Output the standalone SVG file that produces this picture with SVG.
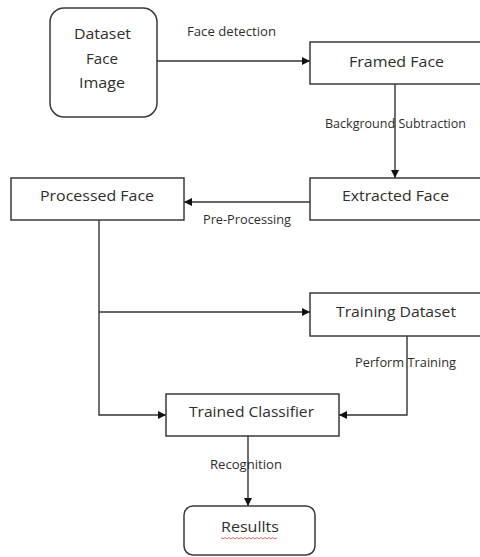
<svg xmlns="http://www.w3.org/2000/svg" width="480" height="557" viewBox="0 0 480 557">
<style>
.box{fill:#fff;stroke:#3a3a3a;stroke-width:1.5}
.conn{fill:none;stroke:#333;stroke-width:1.4}
.nt{font-family:"Open Sans","Liberation Sans",sans-serif;font-size:15px;fill:#2e2e2e;text-anchor:middle}
.lt{font-family:"Open Sans","Liberation Sans",sans-serif;font-size:12px;fill:#2e2e2e;text-anchor:middle}
</style>
<defs>
<marker id="ah" viewBox="0 0 10 10" refX="10" refY="5" markerWidth="8" markerHeight="8" markerUnits="userSpaceOnUse" orient="auto">
<path d="M0,0 L10,5 L0,10 Z" fill="#111"/>
</marker>
</defs>
<rect width="480" height="557" fill="#fff"/>
<g id="connectors">
<path class="conn" d="M157,61 H310" marker-end="url(#ah)"/>
<path class="conn" d="M395,84 V178" marker-end="url(#ah)"/>
<path class="conn" d="M310,202 H184" marker-end="url(#ah)"/>
<path class="conn" d="M99,220 V415 H166" marker-end="url(#ah)"/>
<path class="conn" d="M99,312 H310" marker-end="url(#ah)"/>
<path class="conn" d="M407,336 V415 H339" marker-end="url(#ah)"/>
<path class="conn" d="M248,436 V506" marker-end="url(#ah)"/>
<text class="lt" x="231.5" y="36" textLength="89" lengthAdjust="spacingAndGlyphs">Face detection</text>
<text class="lt" x="395.5" y="128" textLength="141" lengthAdjust="spacingAndGlyphs">Background Subtraction</text>
<text class="lt" x="247" y="224" textLength="88" lengthAdjust="spacingAndGlyphs">Pre-Processing</text>
<text class="lt" x="405.5" y="367" textLength="101" lengthAdjust="spacingAndGlyphs">Perform Training</text>
<text class="lt" x="246" y="469" textLength="72" lengthAdjust="spacingAndGlyphs">Recognition</text>
</g>
<g id="dataset-face-image">
<rect class="box" x="50" y="8" width="107" height="109" rx="14"/>
<text class="nt" x="102.5" y="39" textLength="57" lengthAdjust="spacingAndGlyphs">Dataset</text>
<text class="nt" x="102" y="64" textLength="32" lengthAdjust="spacingAndGlyphs">Face</text>
<text class="nt" x="102" y="88" textLength="46" lengthAdjust="spacingAndGlyphs">Image</text>
</g>
<g id="framed-face">
<rect class="box" x="310" y="42" width="180" height="42"/>
<text class="nt" x="396.5" y="67" textLength="95" lengthAdjust="spacingAndGlyphs">Framed Face</text>
</g>
<g id="extracted-face">
<rect class="box" x="310" y="178" width="180" height="42"/>
<text class="nt" x="395.5" y="201" textLength="107" lengthAdjust="spacingAndGlyphs">Extracted Face</text>
</g>
<g id="processed-face">
<rect class="box" x="11" y="178" width="173" height="42"/>
<text class="nt" x="97" y="201" textLength="114" lengthAdjust="spacingAndGlyphs">Processed Face</text>
</g>
<g id="training-dataset">
<rect class="box" x="310" y="293" width="180" height="43"/>
<text class="nt" x="396" y="317" textLength="120" lengthAdjust="spacingAndGlyphs">Training Dataset</text>
</g>
<g id="trained-classifier">
<rect class="box" x="166" y="394" width="173" height="42"/>
<text class="nt" x="251.5" y="417" textLength="125" lengthAdjust="spacingAndGlyphs">Trained Classifier</text>
</g>
<g id="results">
<rect class="box" x="184" y="506" width="131" height="49" rx="9"/>
<text class="nt" x="250" y="532" textLength="58" lengthAdjust="spacingAndGlyphs">Resullts</text>
<path d="M221,537.5 l2,1.5 l2,-1.5 l2,1.5 l2,-1.5 l2,1.5 l2,-1.5 l2,1.5 l2,-1.5 l2,1.5 l2,-1.5 l2,1.5 l2,-1.5 l2,1.5 l2,-1.5 l2,1.5 l2,-1.5 l2,1.5 l2,-1.5 l2,1.5 l2,-1.5 l2,1.5 l2,-1.5 l2,1.5 l2,-1.5 l2,1.5 l2,-1.5 l2,1.5 l2,-1.5" fill="none" stroke="#d04040" stroke-width="0.8"/>
</g>
</svg>
